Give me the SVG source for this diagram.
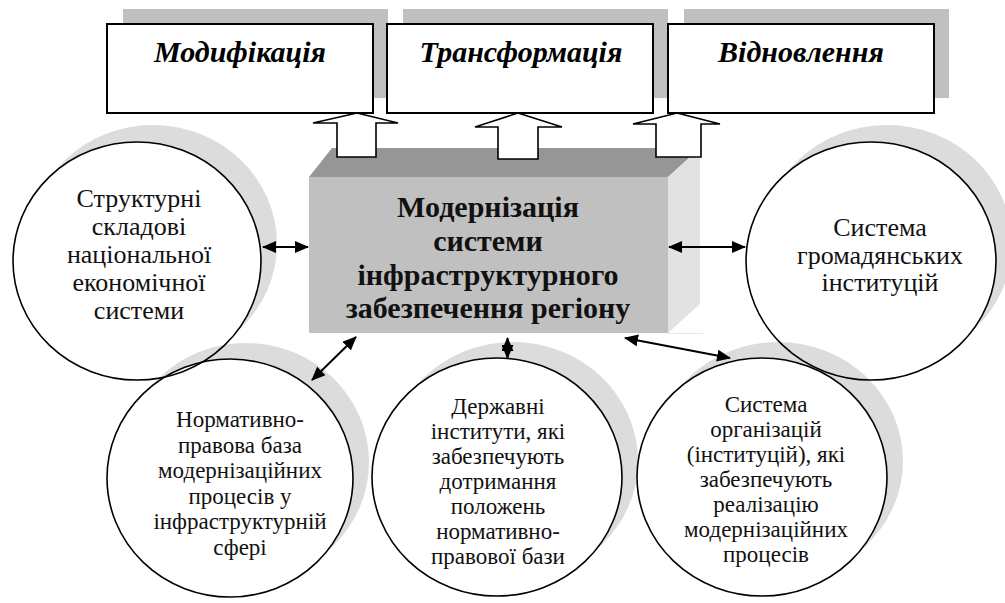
<svg xmlns="http://www.w3.org/2000/svg" width="1005" height="603" viewBox="0 0 1005 603" font-family="Liberation Serif, Times New Roman, serif">
<defs>
<style>
.bg{fill:#ffffff}
.boxsh{fill:#c0c0c0}
.box{fill:#ffffff;stroke:#000;stroke-width:2}
.lbl{font-weight:bold;font-style:italic;font-size:30px;text-anchor:middle;fill:#000}
.barrow{fill:#ffffff;stroke:#000;stroke-width:1.6;stroke-linejoin:miter}
.front{fill:#c0c0c0}
.top{fill:#969696}
.side{fill:#e2e2e2}
.ctext{font-weight:bold;font-size:30px;text-anchor:middle;fill:#111}
.csh{fill:#dcdcdc}
.cfill{fill:#ffffff}
.cline{fill:none;stroke:#000;stroke-width:1.6}
.t1{font-size:26px;text-anchor:middle;fill:#111}
.t2{font-size:23px;text-anchor:middle;fill:#111}
.conn{stroke:#000;stroke-width:2;fill:none;marker-start:url(#ah);marker-end:url(#ah)}
</style>
<marker id="ah" viewBox="0 0 14 12" refX="13" refY="6" markerWidth="14" markerHeight="12" markerUnits="userSpaceOnUse" orient="auto-start-reverse">
<path d="M0,0 L14,6 L0,12 z" fill="#000"/>
</marker>
</defs>
<rect class="bg" x="0" y="0" width="1005" height="603"/>

<g id="box-modyfikatsiya">
<rect class="boxsh" x="123" y="9" width="265" height="89"/>
</g>
<g id="box-transformatsiya">
<rect class="boxsh" x="403" y="9" width="265" height="89"/>
</g>
<g id="box-vidnovlennya">
<rect class="boxsh" x="684" y="9" width="265" height="89"/>
</g>
<g id="box-modyfikatsiya-front">
<rect class="box" x="107" y="24" width="266" height="89"/>
<text class="lbl" x="240" y="62">Модифікація</text>
</g>
<g id="box-transformatsiya-front">
<rect class="box" x="387" y="24" width="266" height="89"/>
<text class="lbl" x="521" y="62">Трансформація</text>
</g>
<g id="box-vidnovlennya-front">
<rect class="box" x="668" y="24" width="266" height="89"/>
<text class="lbl" x="801" y="62">Відновлення</text>
</g>

<g id="center-block">
<polygon class="top" points="309,177 332,148 700,148 668,177"/>
<polygon class="side" points="668,177 700,148 700,304 668,333"/>
<line x1="668" y1="333.5" x2="703" y2="333.5" stroke="#e6e6e6" stroke-width="1"/>
<rect class="front" x="309" y="177" width="359" height="156"/>
<text class="ctext" x="488" y="217">Модернізація</text>
<text class="ctext" x="488" y="251">системи</text>
<text class="ctext" x="488" y="285">інфраструктурного</text>
<text class="ctext" x="488" y="318">забезпечення регіону</text>
</g>

<g id="block-arrows">
<polygon class="barrow" points="357,113 398,123 376,123 376,157 337,157 337,123 313,123"/>
<polygon class="barrow" points="518,113 562,127 538,127 538,159 498,159 498,127 475,127"/>
<polygon class="barrow" points="677,113 720,124 701,124 701,157 656,157 656,124 633,124"/>
</g>

<g id="circle-shadows-top">
<ellipse class="csh" cx="153" cy="244" rx="124" ry="119"/>
<ellipse class="csh" cx="887" cy="244" rx="125" ry="119"/>
</g>
<g id="circle-fills-top">
<ellipse class="cfill" cx="137" cy="261" rx="124" ry="119"/>
<ellipse class="cfill" cx="871" cy="261" rx="125" ry="119"/>
</g>
<g id="circle-shadows-bottom">
<ellipse class="csh" cx="246" cy="462" rx="123" ry="119"/>
<ellipse class="csh" cx="513" cy="461" rx="125" ry="119"/>
<ellipse class="csh" cx="778" cy="461" rx="125" ry="119"/>
</g>
<g id="circle-fills-bottom">
<ellipse class="cfill" cx="230" cy="478" rx="123" ry="119"/>
<ellipse class="cfill" cx="497" cy="477" rx="125" ry="119"/>
<ellipse class="cfill" cx="762" cy="477" rx="125" ry="119"/>
</g>

<g id="node-strukturni">
<ellipse class="cline" cx="137" cy="261" rx="124" ry="119"/>
<text class="t1" x="139" y="207">Структурні</text>
<text class="t1" x="139" y="235">складові</text>
<text class="t1" x="139" y="263">національної</text>
<text class="t1" x="139" y="291">економічної</text>
<text class="t1" x="139" y="319">системи</text>
</g>
<g id="node-hromadianski">
<ellipse class="cline" cx="871" cy="261" rx="125" ry="119"/>
<text class="t1" x="880" y="236">Система</text>
<text class="t1" x="880" y="264">громадянських</text>
<text class="t1" x="880" y="291">інституцій</text>
</g>
<g id="node-normatyvno">
<ellipse class="cline" cx="230" cy="478" rx="123" ry="119"/>
<text class="t2" x="240" y="427">Нормативно-</text>
<text class="t2" x="240" y="452.5">правова база</text>
<text class="t2" x="240" y="478">модернізаційних</text>
<text class="t2" x="240" y="503.5">процесів у</text>
<text class="t2" x="240" y="529">інфраструктурній</text>
<text class="t2" x="240" y="554.5">сфері</text>
</g>
<g id="node-derzhavni">
<ellipse class="cline" cx="497" cy="477" rx="125" ry="119"/>
<text class="t2" x="498" y="414">Державні</text>
<text class="t2" x="498" y="439">інститути, які</text>
<text class="t2" x="498" y="464">забезпечують</text>
<text class="t2" x="498" y="489">дотримання</text>
<text class="t2" x="498" y="514">положень</text>
<text class="t2" x="498" y="539">нормативно-</text>
<text class="t2" x="498" y="564">правової бази</text>
</g>
<g id="node-orhanizatsii">
<ellipse class="cline" cx="762" cy="477" rx="125" ry="119"/>
<text class="t2" x="766" y="412">Система</text>
<text class="t2" x="766" y="437">організацій</text>
<text class="t2" x="766" y="462">(інституцій), які</text>
<text class="t2" x="766" y="487">забезпечують</text>
<text class="t2" x="766" y="512">реалізацію</text>
<text class="t2" x="766" y="537">модернізаційних</text>
<text class="t2" x="766" y="562">процесів</text>
</g>

<g id="connectors">
<line class="conn" x1="263" y1="247" x2="308" y2="247"/>
<line class="conn" x1="669" y1="247" x2="745" y2="247"/>
<line class="conn" x1="356" y1="337" x2="312" y2="380"/>
<line class="conn" x1="507.5" y1="338" x2="507.5" y2="358"/>
<line class="conn" x1="625" y1="338" x2="730" y2="358"/>
</g>
</svg>
